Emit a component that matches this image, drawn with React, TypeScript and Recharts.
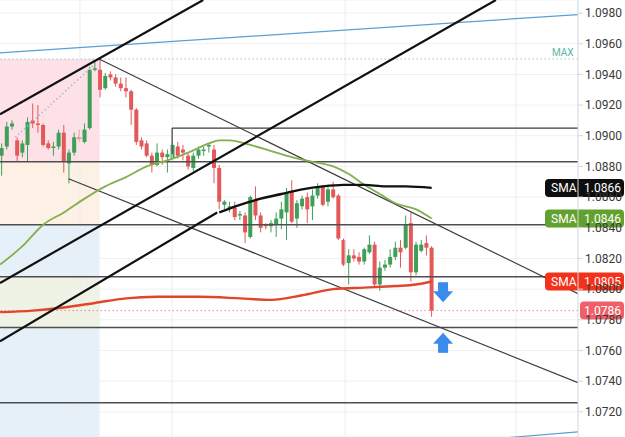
import React from 'react';
import {
  ComposedChart,
  Bar,
  Line,
  XAxis,
  YAxis,
  CartesianGrid,
  ReferenceLine,
  ReferenceArea,
  ReferenceDot,
} from 'recharts';

// EUR/USD style candles, one per index
const opens = [
  1.0887, 1.0893, 1.0906, 1.0897, 1.0889, 1.0894, 1.091, 1.0908, 1.0907, 1.0895,
  1.0892, 1.0893, 1.0902, 1.0882, 1.0889, 1.0899, 1.0896, 1.0905, 1.0943, 1.0943,
  1.0931, 1.094, 1.0938, 1.0934, 1.0931, 1.0929, 1.0917, 1.0897, 1.0895, 1.0887,
  1.0881, 1.0889, 1.0886, 1.0885, 1.0893, 1.0891, 1.0887, 1.0879, 1.0887, 1.089,
  1.0893, 1.0891, 1.0879, 1.0855, 1.0853, 1.0853, 1.0848, 1.0848, 1.0834, 1.0858,
  1.0848, 1.0842, 1.0841, 1.0842, 1.0846, 1.085, 1.0864, 1.0846, 1.0854, 1.086,
  1.0854, 1.0861, 1.0867, 1.0857, 1.0865, 1.0861, 1.0832, 1.0817, 1.0822, 1.0821,
  1.0818, 1.0824, 1.0829, 1.0803, 1.0814, 1.0816, 1.0821, 1.0827, 1.0827, 1.0843,
  1.0811, 1.0825, 1.083, 1.0827,
];
const highs = [
  1.0895, 1.0909, 1.091, 1.0899, 1.0897, 1.0912, 1.0921, 1.092, 1.0908, 1.0897,
  1.0896, 1.0904, 1.0907, 1.0891, 1.0902, 1.0904, 1.0908, 1.0945, 1.0949, 1.095,
  1.0941, 1.0942, 1.094, 1.0938, 1.0938, 1.093, 1.0918, 1.0899, 1.0897, 1.0889,
  1.0895, 1.0891, 1.0891, 1.0896, 1.0896, 1.0894, 1.0889, 1.0889, 1.0893, 1.0893,
  1.0895, 1.0894, 1.0881, 1.0858, 1.0857, 1.0857, 1.0851, 1.085, 1.0861, 1.0867,
  1.085, 1.0843, 1.0845, 1.085, 1.0857, 1.0866, 1.0871, 1.0858, 1.0861, 1.0863,
  1.0865, 1.0869, 1.0868, 1.0868, 1.087, 1.0862, 1.0833, 1.0826, 1.0826, 1.0824,
  1.0827, 1.0835, 1.0831, 1.0818, 1.0819, 1.0826, 1.0831, 1.0832, 1.0848, 1.085,
  1.0831, 1.0832, 1.0835, 1.0828,
];
const lows = [
  1.0874, 1.0891, 1.0904, 1.0883, 1.0886, 1.0883, 1.0905, 1.0902, 1.0893, 1.0891,
  1.0887, 1.0891, 1.0876, 1.0869, 1.0887, 1.0896, 1.0895, 1.0904, 1.0942, 1.0925,
  1.093, 1.0936, 1.0932, 1.0929, 1.0925, 1.0907, 1.0894, 1.0891, 1.0886, 1.0876,
  1.088, 1.0881, 1.0876, 1.0884, 1.0885, 1.0884, 1.0878, 1.0877, 1.0885, 1.0887,
  1.0889, 1.0869, 1.0852, 1.0852, 1.085, 1.0845, 1.0845, 1.083, 1.0833, 1.0845,
  1.0837, 1.0839, 1.0837, 1.0834, 1.0839, 1.0832, 1.0843, 1.084, 1.0852, 1.0843,
  1.0845, 1.0859, 1.0854, 1.0854, 1.0859, 1.0832, 1.0815, 1.0803, 1.0818, 1.0816,
  1.0816, 1.0823, 1.0801, 1.0799, 1.0812, 1.0814, 1.0819, 1.0814, 1.0826, 1.0805,
  1.0809, 1.0824, 1.0822, 1.0782,
];
const closes = [
  1.0892, 1.0906, 1.0908, 1.0887, 1.0895, 1.0909, 1.0908, 1.0907, 1.0894, 1.0892,
  1.0893, 1.0902, 1.0883, 1.0889, 1.0899, 1.0898, 1.0904, 1.0943, 1.0944, 1.093,
  1.0939, 1.0938, 1.0934, 1.0931, 1.0929, 1.0917, 1.0896, 1.0893, 1.0887, 1.0881,
  1.0889, 1.0886, 1.0888, 1.0894, 1.0887, 1.0889, 1.088, 1.0887, 1.0891, 1.0891,
  1.0894, 1.0879, 1.0857, 1.0857, 1.0854, 1.0847, 1.0849, 1.0837, 1.086, 1.0848,
  1.084, 1.0841, 1.0843, 1.0846, 1.0852, 1.0863, 1.0844, 1.0856, 1.0859, 1.0852,
  1.0861, 1.0867, 1.0855, 1.0865, 1.086, 1.0833, 1.0816, 1.0822, 1.082, 1.0818,
  1.0826, 1.0829, 1.0803, 1.0814, 1.0816, 1.0821, 1.0827, 1.0824, 1.0842, 1.0811,
  1.0829, 1.0829, 1.0827, 1.0786,
];

// moving averages: [candle index, value]
const smaBlack = [
  [42, 1.085], [46, 1.0855], [50, 1.0859], [54, 1.0862], [58, 1.0865], [62, 1.0867],
  [66, 1.0868], [70, 1.0868], [74, 1.0867], [78, 1.0867], [83, 1.0866],
];
const smaGreen = [
  [-0.3, 1.0816], [4, 1.0828], [8, 1.0842], [12, 1.085], [16, 1.0859], [20, 1.0867],
  [24, 1.0873], [28, 1.088], [32, 1.0884], [36, 1.0889], [40, 1.0895], [42, 1.0897],
  [44, 1.0897], [48, 1.0894], [52, 1.089], [56, 1.0886], [60, 1.0883], [64, 1.088],
  [67, 1.0875], [70, 1.0868], [73, 1.0862], [76, 1.0856], [80, 1.0852], [83, 1.0846],
];
const smaRed = [
  [-0.3, 1.0785], [6, 1.0786], [12, 1.0788], [18, 1.0791], [24, 1.0794], [30, 1.0795],
  [38, 1.0795], [46, 1.0794], [52, 1.0793], [58, 1.0796], [64, 1.08], [70, 1.0801],
  [76, 1.0802], [80, 1.0803], [83, 1.0805],
];

const yTicks = [
  1.072, 1.074, 1.076, 1.078, 1.08, 1.082, 1.084, 1.086, 1.088, 1.09, 1.092, 1.094, 1.096, 1.098,
];
const levels = [1.0883, 1.0842, 1.0808, 1.0775, 1.0726];
const thickLines = [
  [[-0.33, 1.0914], [38.9, 1.09885]],
  [[-0.33, 1.0804], [95.4, 1.09885]],
  [[-0.33, 1.0766], [41.6, 1.085]],
];
const thinLines = [
  [[18.8, 1.095], [111.25, 1.0797]],
  [[12.9, 1.0872], [111.25, 1.0739]],
  [[32.9, 1.0905], [111.25, 1.0905]],
  [[32.9, 1.0905], [32.9, 1.0888]],
];
const blueLines = [
  [[-0.33, 1.0954], [111.25, 1.0979]],
  [[90, 1.0701], [111.25, 1.0707]],
];
const dottedDiagonal = [[2.6, 1.0899], [18.4, 1.0948]];
const zones = [
  { from: 1.095, to: 1.0883, fill: '#fde1e7' },
  { from: 1.0883, to: 1.0842, fill: '#fdf0e4' },
  { from: 1.0842, to: 1.07036, fill: '#e6f0f8' },
  { from: 1.0808, to: 1.0775, fill: '#eef3e6' },
];
const zoneEnd = 18.9;
const vGrid = [15.1, 32.9, 66.3, 99.3];
const maxLevel = 1.095;
const lastPrice = 1.0786;
const smaTags = [
  { value: 1.0866, bg: '#0e0e0e' },
  { value: 1.0846, bg: '#62a12f' },
  { value: 1.0805, bg: '#f2321a' },
];
const arrowDown = [85.2, 1.0798];
const arrowUp = [85.2, 1.0765];

const GREEN = '#3f9f58';
const RED = '#e35858';
const X_DOMAIN = [-0.33, 111.25];
const Y_DOMAIN = [1.07036, 1.09885];

const candles = opens.map((o, i) => ({
  x: i,
  open: o,
  high: highs[i],
  low: lows[i],
  close: closes[i],
}));

const toPts = (arr: number[][]) => arr.map(([x, v]) => ({ x, v }));

function Candle(props: any) {
  let { x, y, width, height } = props;
  const { open, close, high, low } = props.payload;
  if (height < 0) {
    y += height;
    height = -height;
  }
  const color = close >= open ? GREEN : RED;
  const k = high - low > 0 ? height / (high - low) : 0;
  const yo = y + (high - open) * k;
  const yc = y + (high - close) * k;
  const top = Math.min(yo, yc);
  const bh = Math.max(Math.abs(yo - yc), 1.5);
  const cx = x + width / 2;
  return (
    <g>
      <line x1={cx} x2={cx} y1={y} y2={y + height} stroke={color} strokeWidth={1} />
      <rect x={cx - 2} y={top} width={4} height={bh} fill={color} />
    </g>
  );
}

function SmaTag({ viewBox, value, bg }: any) {
  const right = viewBox.x + viewBox.width;
  const cy = viewBox.y;
  return (
    <g>
      <rect x={right - 33} y={cy - 9} width={79} height={18} rx={4} fill={bg} />
      <text x={right - 27} y={cy + 4.5} fontSize={12} fill="#fff" fontFamily="Roboto">
        SMA
      </text>
      <text x={right + 43} y={cy + 4.5} fontSize={12} fill="#fff" fontFamily="Roboto" textAnchor="end">
        {value.toFixed(4)}
      </text>
    </g>
  );
}

function PriceTag({ viewBox, value }: any) {
  const right = viewBox.x + viewBox.width;
  const cy = viewBox.y;
  return (
    <g>
      <rect x={right + 2} y={cy - 9} width={44} height={18} rx={4} fill="#ee5f69" />
      <text x={right + 43} y={cy + 4.5} fontSize={12} fill="#fff" fontFamily="Roboto" textAnchor="end">
        {value.toFixed(4)}
      </text>
    </g>
  );
}

function MaxLabel({ viewBox }: any) {
  return (
    <text x={viewBox.x + viewBox.width - 26} y={viewBox.y - 3} fontSize={10} fill="#5bb5a5" fontFamily="Roboto">
      MAX
    </text>
  );
}

function Arrow({ cx, cy, up }: any) {
  const c = '#3b8beb';
  if (up) {
    return (
      <g>
        <polygon points={`${cx - 10},${cy + 1} ${cx + 10},${cy + 1} ${cx},${cy - 10}`} fill={c} />
        <rect x={cx - 5} y={cy} width={10} height={10} fill={c} />
      </g>
    );
  }
  return (
    <g>
      <rect x={cx - 5} y={cy - 10} width={10} height={10} fill={c} />
      <polygon points={`${cx - 10},${cy - 1} ${cx + 10},${cy - 1} ${cx},${cy + 10}`} fill={c} />
    </g>
  );
}

export default function App() {
  return (
    <div style={{ position: 'absolute', left: 0, top: 0, width: 625, height: 437, background: '#fff' }}>
      <ComposedChart
        width={625}
        height={437}
        data={candles}
        margin={{ top: 0, right: 0, bottom: 0, left: 0 }}
      >
        <CartesianGrid vertical={false} stroke="#eef0f2" />
        <XAxis type="number" dataKey="x" domain={X_DOMAIN} hide allowDataOverflow />
        <YAxis
          orientation="right"
          domain={Y_DOMAIN}
          ticks={yTicks}
          allowDataOverflow
          width={47}
          tickSize={5}
          tickFormatter={(v: number) => v.toFixed(4)}
          tick={{ fontSize: 12, fill: '#3a3a3a', fontFamily: 'Roboto' }}
          axisLine={{ stroke: '#cfd8e3' }}
          tickLine={{ stroke: '#cfd8e3' }}
        />

        {zones.map((z, i) => (
          <ReferenceArea
            key={`zone-${i}`}
            x1={X_DOMAIN[0]}
            x2={zoneEnd}
            y1={z.to}
            y2={z.from}
            fill={z.fill}
            fillOpacity={1}
            stroke="none"
            ifOverflow="hidden"
          />
        ))}
        {vGrid.map((x) => (
          <ReferenceLine key={`vg-${x}`} x={x} stroke="#ececec" />
        ))}

        <ReferenceLine y={maxLevel} stroke="#9cc9c2" strokeDasharray="1.5 2.5" label={<MaxLabel />} />
        <ReferenceLine y={lastPrice} stroke="#e88a8f" strokeDasharray="1.5 2.5" />

        {blueLines.map((s, i) => (
          <ReferenceLine
            key={`blue-${i}`}
            segment={[{ x: s[0][0], y: s[0][1] }, { x: s[1][0], y: s[1][1] }]}
            stroke="#5a9fd0"
            strokeWidth={1.2}
            ifOverflow="hidden"
          />
        ))}
        <ReferenceLine
          segment={[
            { x: dottedDiagonal[0][0], y: dottedDiagonal[0][1] },
            { x: dottedDiagonal[1][0], y: dottedDiagonal[1][1] },
          ]}
          stroke="#a9b8dc"
          strokeWidth={1.5}
          strokeDasharray="1.5 2.5"
          ifOverflow="hidden"
        />

        {levels.map((v) => (
          <ReferenceLine key={`lvl-${v}`} y={v} stroke="#4e4e4e" strokeWidth={1.5} />
        ))}
        {thinLines.map((s, i) => (
          <ReferenceLine
            key={`thin-${i}`}
            segment={[{ x: s[0][0], y: s[0][1] }, { x: s[1][0], y: s[1][1] }]}
            stroke="#3c3c3c"
            strokeWidth={1.2}
            ifOverflow="hidden"
          />
        ))}

        <Line
          data={toPts(smaRed)}
          dataKey="v"
          type="monotone"
          stroke="#e2452c"
          strokeWidth={2.4}
          dot={false}
          activeDot={false}
          isAnimationActive={false}
        />
        <Line
          data={toPts(smaGreen)}
          dataKey="v"
          type="monotone"
          stroke="#82b04e"
          strokeWidth={1.8}
          dot={false}
          activeDot={false}
          isAnimationActive={false}
        />

        <Bar
          dataKey={(d: any) => [d.low, d.high]}
          barSize={4}
          shape={Candle}
          isAnimationActive={false}
        />

        {thickLines.map((s, i) => (
          <ReferenceLine
            key={`thick-${i}`}
            segment={[{ x: s[0][0], y: s[0][1] }, { x: s[1][0], y: s[1][1] }]}
            stroke="#111"
            strokeWidth={2.2}
            ifOverflow="hidden"
          />
        ))}
        <Line
          data={toPts(smaBlack)}
          dataKey="v"
          type="monotone"
          stroke="#111"
          strokeWidth={2.4}
          dot={false}
          activeDot={false}
          isAnimationActive={false}
        />

        <ReferenceDot
          x={arrowDown[0]}
          y={arrowDown[1]}
          r={1}
          shape={(p: any) => <Arrow cx={p.cx} cy={p.cy} />}
        />
        <ReferenceDot
          x={arrowUp[0]}
          y={arrowUp[1]}
          r={1}
          shape={(p: any) => <Arrow cx={p.cx} cy={p.cy} up />}
        />

        {smaTags.map((t) => (
          <ReferenceLine
            key={`tag-${t.value}`}
            y={t.value}
            stroke="none"
            label={<SmaTag value={t.value} bg={t.bg} />}
          />
        ))}
        <ReferenceLine y={lastPrice} stroke="none" label={<PriceTag value={lastPrice} />} />
      </ComposedChart>
    </div>
  );
}
